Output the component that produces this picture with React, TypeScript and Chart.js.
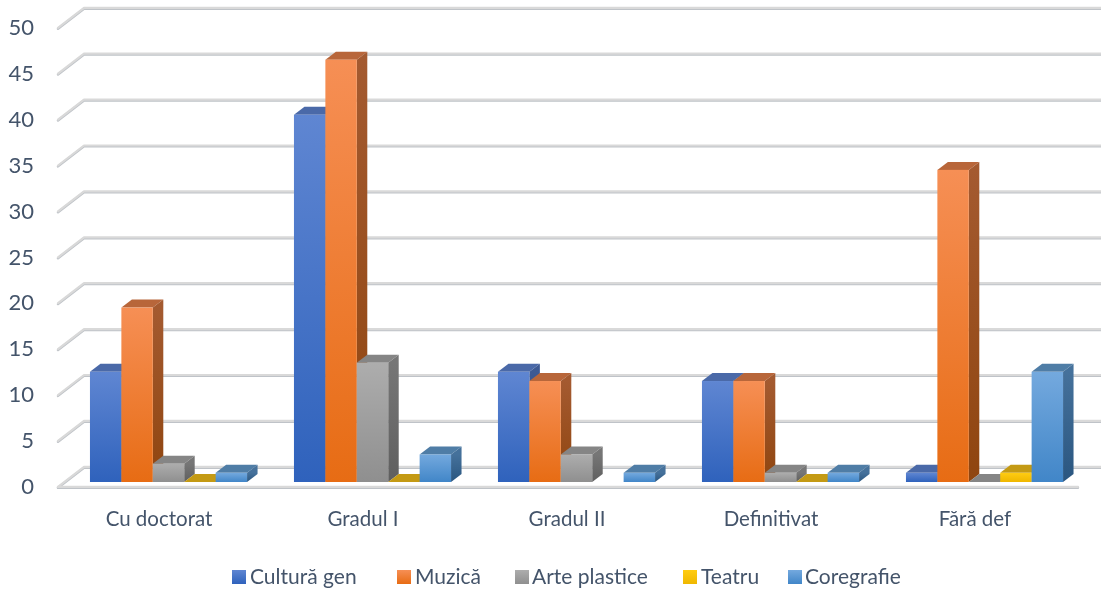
import React, { useEffect, useRef } from "react";
import { Chart, registerables } from "chart.js";

Chart.register(...registerables);

const categories = ["Cu doctorat", "Gradul I", "Gradul II", "Definitivat", "Fără def"];
const culturaGen = [12, 40, 12, 11, 1];
const muzica = [19, 46, 11, 11, 34];
const artePlastice = [2, 13, 3, 1, 0];
const teatru = [0, 0, null, 0, 1];
const coregrafie = [1, 3, 1, 1, 12];
const seriesNames = ["Cultură gen", "Muzică", "Arte plastice", "Teatru", "Coregrafie"];

const palette = [
  { a: "#5F86D2", b: "#2F62BC", top: "#4A69A8", sa: "#3D5A94", sb: "#21447F" },
  { a: "#F68F55", b: "#E76C14", top: "#B8663A", sa: "#A45A30", sb: "#8F450F" },
  { a: "#ADADAD", b: "#8F8F8F", top: "#858585", sa: "#767676", sb: "#5F5F5F" },
  { a: "#FFCC12", b: "#EFB700", top: "#C49A14", sa: "#A88610", sb: "#8F7000" },
  { a: "#74A9DE", b: "#4186C8", top: "#4F7DA6", sa: "#45719B", sb: "#2A5680" },
];
const legendSwatchX = [232, 397, 515, 683, 788];
const legendTextX = [250, 415, 532, 701, 805];
const FONT = 'Lato, sans-serif';
const TEXT = "#44546A";

const grid3d = {
  id: "grid3d",
  beforeDatasetsDraw(chart: any) {
    const { ctx, scales, chartArea } = chart;
    const y = scales.y;
    const left = chartArea.left;
    const strokeAll = (color: string, width: number, off: number) => {
      ctx.save();
      ctx.strokeStyle = color;
      ctx.lineWidth = width;
      ctx.lineCap = "round";
      ctx.lineJoin = "round";
      y.ticks.forEach((t: any) => {
        const py = y.getPixelForValue(t.value) + off;
        ctx.beginPath();
        ctx.moveTo(left + 1, py);
        ctx.lineTo(left + 27, py - 20);
        ctx.lineTo(1101, py - 20);
        ctx.stroke();
      });
      const by = y.getPixelForValue(0) + off;
      ctx.beginPath();
      ctx.moveTo(left + 1, by);
      ctx.lineTo(chartArea.right + 1, by);
      ctx.stroke();
      ctx.restore();
    };
    strokeAll("#BFC3C8", 2.4, 0.7);
    strokeAll("#D9D9D9", 2.2, -0.2);

    const drawBar = (el: any, c: any) => {
      const ox = 9.5, oy = -5, dx = 10.5, dy = 8;
      const x0 = el.x - el.width / 2 + ox;
      const x1 = el.x + el.width / 2 + ox;
      const top = el.y + oy;
      const bot = el.base + oy;
      ctx.fillStyle = c.top;
      ctx.beginPath();
      ctx.moveTo(x0, top);
      ctx.lineTo(x0 + dx, top - dy);
      ctx.lineTo(x1 + dx, top - dy);
      ctx.lineTo(x1, top);
      ctx.closePath();
      ctx.fill();
      if (bot - top > 0.5) {
        const s = ctx.createLinearGradient(0, top, 0, bot);
        s.addColorStop(0, c.sa);
        s.addColorStop(1, c.sb);
        ctx.fillStyle = s;
        ctx.beginPath();
        ctx.moveTo(x1, top);
        ctx.lineTo(x1 + dx, top - dy);
        ctx.lineTo(x1 + dx, bot - dy);
        ctx.lineTo(x1, bot);
        ctx.closePath();
        ctx.fill();
        const f = ctx.createLinearGradient(0, top, 0, bot);
        f.addColorStop(0, c.a);
        f.addColorStop(1, c.b);
        ctx.fillStyle = f;
        ctx.fillRect(x0, top, x1 - x0, bot - top);
      }
    };

    categories.forEach((_, i) => {
      chart.data.datasets.forEach((ds: any, d: number) => {
        if (ds.data[i] === null) return;
        drawBar(chart.getDatasetMeta(d).data[i], palette[d]);
      });
    });
    return false;
  },
  afterDraw(chart: any) {
    const { ctx } = chart;
    ctx.save();
    ctx.font = `21px ${FONT}`;
    ctx.textBaseline = "middle";
    ctx.textAlign = "left";
    chart.data.datasets.forEach((ds: any, d: number) => {
      const g = ctx.createLinearGradient(0, 570, 0, 584);
      g.addColorStop(0, palette[d].a);
      g.addColorStop(1, palette[d].b);
      ctx.fillStyle = g;
      ctx.fillRect(legendSwatchX[d], 570, 14, 14);
      ctx.fillStyle = TEXT;
      ctx.fillText(ds.label, legendTextX[d], 577);
    });
    ctx.restore();
  },
};

export default function App() {
  const ref = useRef<HTMLCanvasElement>(null);
  useEffect(() => {
    const values = [culturaGen, muzica, artePlastice, teatru, coregrafie];
    const chart = new Chart(ref.current as HTMLCanvasElement, {
      type: "bar",
      data: {
        labels: categories,
        datasets: seriesNames.map((label, i) => ({
          label,
          data: values[i],
          backgroundColor: palette[i].b,
        })),
      },
      options: {
        animation: false,
        responsive: false,
        devicePixelRatio: 1,
        layout: { padding: { top: 28, right: 24, left: 0, bottom: 0 } },
        datasets: { bar: { categoryPercentage: 0.77, barPercentage: 1 } },
        plugins: { legend: { display: false }, tooltip: { enabled: false }, title: { display: false } },
        scales: {
          x: {
            grid: { display: false },
            border: { display: false },
            afterFit: (s: any) => { s.height = 106; s.paddingLeft = 0; s.paddingRight = 0; },
            ticks: { color: TEXT, font: { family: FONT, size: 20.5 }, padding: 12, maxRotation: 0 },
          },
          y: {
            min: 0,
            max: 50,
            grid: { display: false },
            border: { display: false },
            afterFit: (s: any) => { s.width = 57; s.paddingTop = 0; s.paddingBottom = 0; },
            ticks: { stepSize: 5, color: TEXT, font: { family: FONT, size: 22 }, padding: 15 },
          },
        },
      } as any,
      plugins: [grid3d],
    });
    return () => chart.destroy();
  }, []);
  return (
    <div style={{ position: "fixed", left: 0, top: 0, width: 1101, height: 593, background: "#fff" }}>
      <canvas ref={ref} width={1101} height={593} style={{ display: "block" }} />
    </div>
  );
}
